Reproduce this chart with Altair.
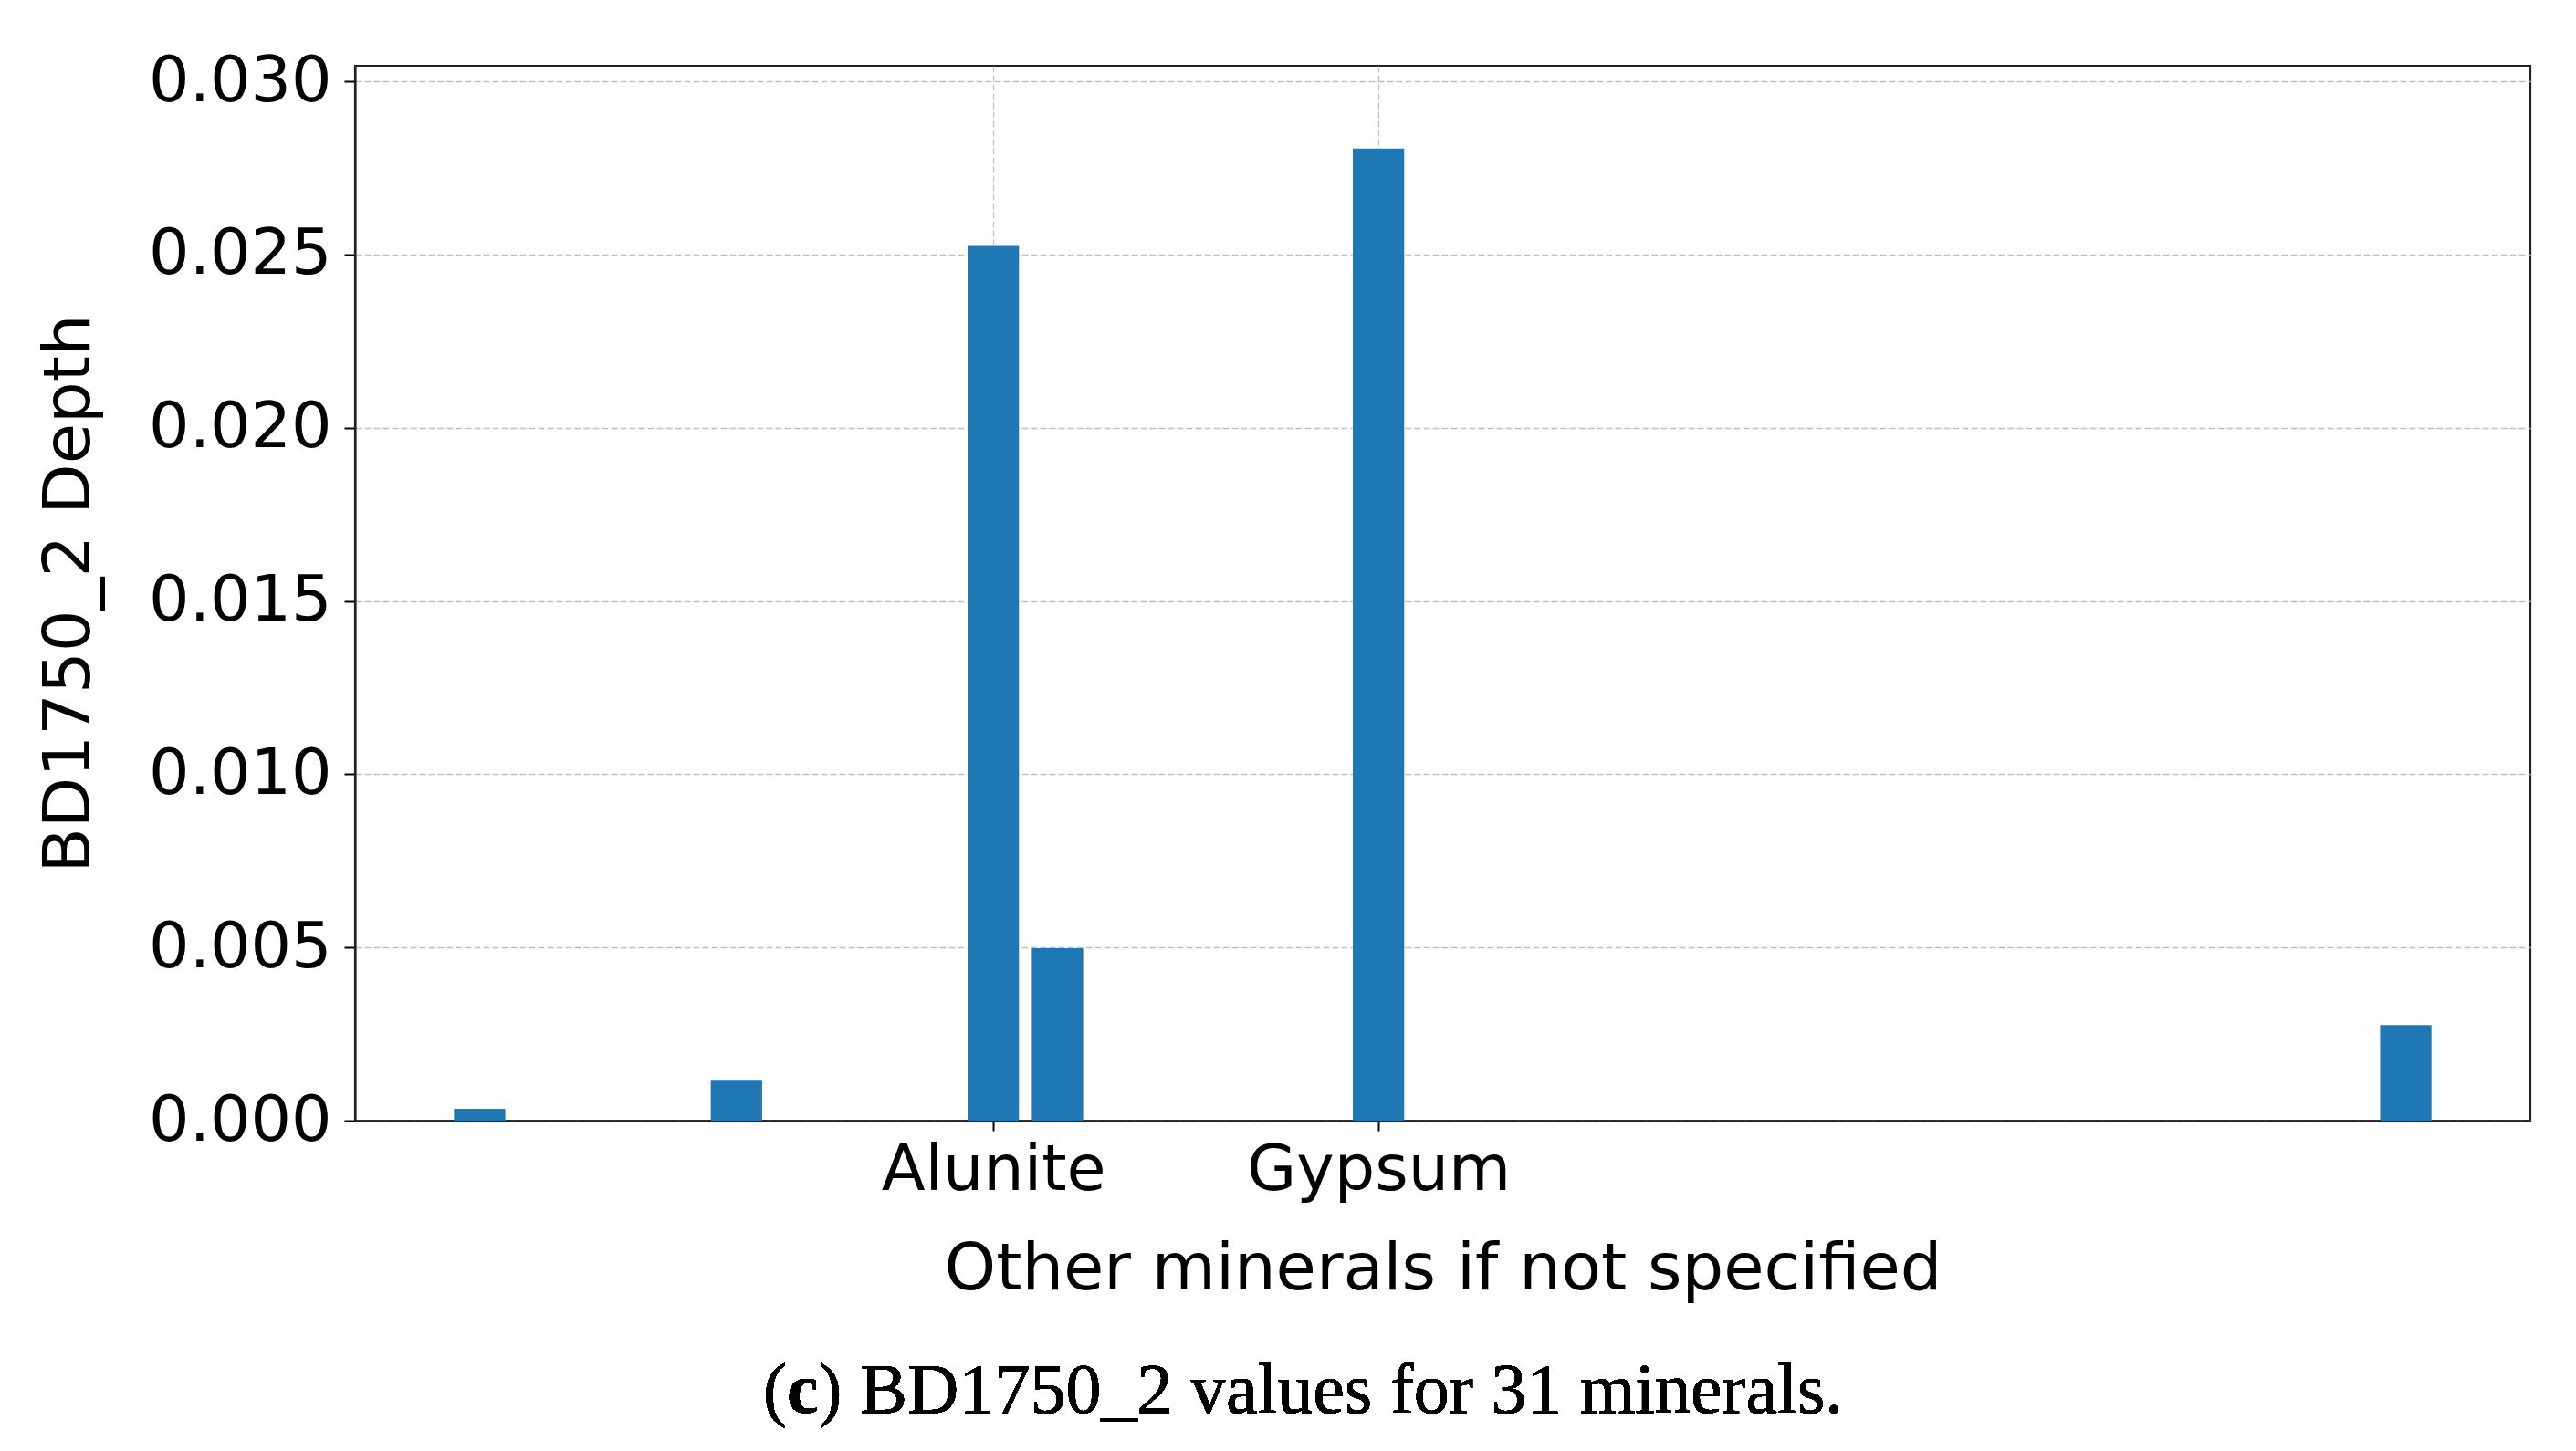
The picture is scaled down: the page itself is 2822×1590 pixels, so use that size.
import altair as alt
import pandas as pd

# 31 minerals; only two are named on the axis
minerals = [""] * 31
minerals[8] = "Alunite"
minerals[14] = "Gypsum"

# BD1750_2 depth values
values = [0.00034, 0, 0, 0, 0.00115, 0, 0, 0, 0.02525, 0.00498,
          0, 0, 0, 0, 0.02806, 0, 0, 0, 0, 0,
          0, 0, 0, 0, 0, 0, 0, 0, 0, 0,
          0.00276]

y_ticks = [0.000, 0.005, 0.010, 0.015, 0.020, 0.025, 0.030]

df = pd.DataFrame({"idx": list(range(len(values))), "mineral": minerals, "value": values})

named = [i for i, m in enumerate(minerals) if m]
label_expr = " : ".join(f"datum.value == {i} ? '{minerals[i]}'" for i in named) + " : ''"

W, H = 2383, 1156
FONT = "DejaVu Sans"
GRID = "#c0c0c0"
SPINE = "#222222"

bars = alt.Chart(df).transform_filter("datum.value > 0").transform_calculate(
    x0="datum.idx - 0.4", x1="datum.idx + 0.4"
).mark_bar(color="#1f77b4").encode(
    x=alt.X("x0:Q",
            scale=alt.Scale(domain=[-1.94, 31.94], nice=False, zero=False),
            axis=alt.Axis(values=named, labelExpr=label_expr, labelLimit=0,
                          title="Other minerals if not specified",
                          grid=True, gridDash=[7, 3], gridColor=GRID, gridWidth=1.3,
                          tickSize=11, tickColor="black", tickWidth=2,
                          labelFontSize=70, labelFont=FONT, labelColor="black",
                          labelBaseline="alphabetic", labelPadding=64,
                          titleFontSize=72, titleFont=FONT, titleFontWeight="normal",
                          titleColor="black", titleBaseline="alphabetic", titleY=184,
                          domain=True, domainColor=SPINE, domainWidth=2.2)),
    x2="x1:Q",
    y=alt.Y("value:Q",
            scale=alt.Scale(domain=[0, 0.03045], nice=False),
            axis=alt.Axis(values=y_ticks, format=".3f", labelLimit=0,
                          title="BD1750_2 Depth",
                          grid=True, gridDash=[7, 3], gridColor=GRID, gridWidth=1.3,
                          tickSize=12, tickColor="black", tickWidth=2,
                          labelFontSize=70, labelFont=FONT, labelColor="black",
                          labelPadding=14,
                          titleFontSize=72, titleFont=FONT, titleFontWeight="normal",
                          titleColor="black", titleX=-277, titleY=578,
                          titleBaseline="bottom",
                          domain=True, domainColor=SPINE, domainWidth=2.2)),
    y2=alt.datum(0),
)

cap_font = "Liberation Serif"
cap_size = 78
cap_y = 1476
cap_x = 447
cap1 = alt.Chart(df).mark_text(text="(", font=cap_font, fontSize=cap_size, align="left",
                                baseline="alphabetic", color="black").encode(
    x=alt.value(cap_x), y=alt.value(cap_y))
cap2 = alt.Chart(df).mark_text(text="c", font=cap_font, fontSize=cap_size, fontWeight="bold",
                                align="left", baseline="alphabetic", color="black").encode(
    x=alt.value(cap_x + 0.333 * cap_size), y=alt.value(cap_y))
cap3 = alt.Chart(df).mark_text(text=") BD1750_2 values for 31 minerals.", font=cap_font,
                                fontSize=cap_size, align="left", baseline="alphabetic",
                                color="black").encode(
    x=alt.value(cap_x + 0.777 * cap_size), y=alt.value(cap_y))

chart = alt.layer(bars, cap1, cap2, cap3).properties(
    width=W, height=H,
    background="white",
    autosize=alt.AutoSizeParams(type="none"),
    padding={"left": 381, "top": 64, "right": 42, "bottom": 354},
).configure_view(stroke=SPINE, strokeWidth=2.2)

chart.save("out.html", embed_options={"renderer": "svg", "actions": False})
